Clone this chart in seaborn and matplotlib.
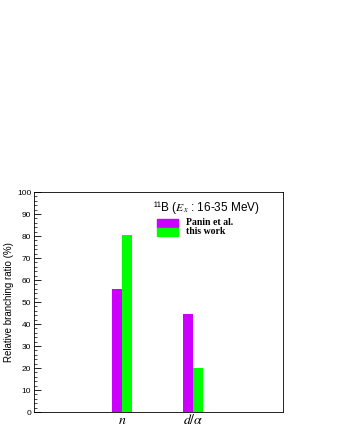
import matplotlib
matplotlib.use("Agg")
import matplotlib.pyplot as plt
import seaborn as sns
import pandas as pd
from matplotlib.ticker import MultipleLocator
from matplotlib.patches import Rectangle

categories = ["n", "d/α"]
series = ["Panin et al.", "this work"]
panin = [56.0, 44.5]
this_work = [80.5, 20.0]
colors = ["#cc00ff", "#00ff00"]

df = pd.DataFrame({
    "cat": categories * 2,
    "series": [series[0]] * 2 + [series[1]] * 2,
    "val": panin + this_work,
})

sns.set_style("ticks")
plt.rcParams["mathtext.fontset"] = "stix"
plt.rcParams["text.color"] = "black"
plt.rcParams["axes.labelcolor"] = "black"
plt.rcParams["xtick.color"] = "black"
plt.rcParams["ytick.color"] = "black"
plt.rcParams["axes.edgecolor"] = "black"

fig = plt.figure(figsize=(3.4, 4.4), dpi=100)
ax = fig.add_axes([34/340, 28/440, 249/340, 220/440])
sns.barplot(data=df, x="cat", y="val", hue="series", palette=colors,
            width=0.28, ax=ax, legend=False, saturation=1, linewidth=0)

ax.set_xlim(-1.24, 2.27)
ax.set_ylim(0, 100)
ax.yaxis.set_major_locator(MultipleLocator(10))
ax.yaxis.set_minor_locator(MultipleLocator(2))
ax.tick_params(axis="y", which="major", direction="in", length=5, width=0.6, labelsize=6, pad=2)
ax.tick_params(axis="y", which="minor", direction="in", length=2.5, width=0.5)
ax.tick_params(axis="x", length=0, pad=1)
ax.set_xticks([0, 1])
ax.set_xticklabels(["$n$", "$d/\\alpha$"], fontsize=10)
for lab in ax.get_yticklabels():
    lab.set_family("Liberation Sans")
ax.set_xlabel("")
ax.set_ylabel("Relative branching ratio (%)", fontsize=7, family="Liberation Sans", labelpad=2)
for s in ax.spines.values():
    s.set_linewidth(0.6)
    s.set_visible(True)

fig.text(153/340, 1 - 208/440, "¹¹B ($E_x$ : 16-35 MeV)", fontsize=8.5, family="Liberation Sans", va="center", ha="left")
for i, (lab, c) in enumerate(zip(series, colors)):
    y0 = 219 + i * 9
    fig.patches.append(Rectangle((157/340, 1 - (y0 + 8.5)/440), 21/340, 8.5/440, transform=fig.transFigure, color=c))
    fig.text(186/340, 1 - (y0 + 3.5)/440, lab, fontsize=7, family="Liberation Serif", weight="bold", va="center", ha="left")

fig.savefig("out.png", dpi=100)
